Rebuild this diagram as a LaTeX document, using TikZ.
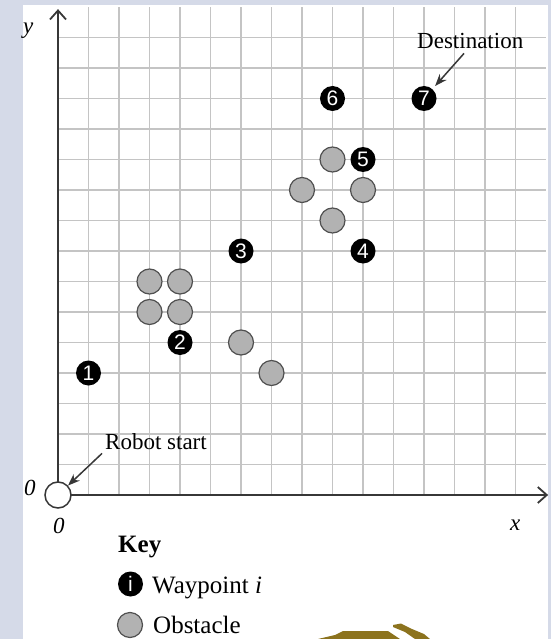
\documentclass[tikz,border=0pt]{standalone}
\usepackage{fontspec}
\setmainfont{Liberation Serif}
\newfontfamily\wpsans{Liberation Sans}
\usetikzlibrary{arrows.meta}
\definecolor{bgblue}{RGB}{213,218,232}
\definecolor{gridgray}{RGB}{196,196,196}
\definecolor{axisgray}{RGB}{55,55,55}
\definecolor{obsgray}{RGB}{178,178,178}
\definecolor{obsedge}{RGB}{80,80,80}
\definecolor{logobrown}{RGB}{140,115,30}
\tikzset{
  wp/.style={circle, fill=black, text=white, minimum size=25pt, inner sep=0pt, font=\wpsans\fontsize{21}{21}\selectfont},
  obs/.style={circle, fill=obsgray, draw=obsedge, line width=1.2pt, minimum size=25pt, inner sep=0pt},
  startnode/.style={circle, fill=white, draw=axisgray, line width=1.5pt, minimum size=26pt, inner sep=0pt},
  lbl/.style={font=\fontsize{23}{27}\selectfont, inner sep=0pt, anchor=base west},
  axlbl/.style={font=\fontsize{23}{27}\selectfont\itshape, inner sep=0pt, anchor=base west},
  keylbl/.style={font=\fontsize{25}{29}\selectfont, inner sep=0pt, anchor=base west},
  ptr/.style={draw=axisgray, line width=1.5pt, -{Stealth[length=12pt,width=9pt]}},
  axisline/.style={draw=axisgray, line width=1.8pt, -{Straight Barb[length=9pt,width=16pt]}},
  gridline/.style={draw=gridgray, line width=1.6pt},
}
\begin{document}
\begin{tikzpicture}[x=1pt,y=-1pt]
\useasboundingbox (0,0) rectangle (551,639);
\fill[bgblue] (0,0) rectangle (551,639);
\fill[white] (23,5) rectangle (548,639);
\begin{scope}[shift={(58,495)}, x=30.5pt, y=30.5pt]
  \foreach \i in {1,...,15} {
    \draw[gridline] (\i,0) -- (\i,16);
    \draw[gridline] (0,\i) -- (16,\i);
  }
  \coordinate (O) at (0,0);
  \coordinate (xend) at (16.07,0);
  \coordinate (yend) at (0,15.93);
  \draw[axisline] (O) -- (xend);
  \draw[axisline] (O) -- (yend);
  \node[startnode] (start) at (0,0) {};
  % obstacles
  \node[obs] (o1) at (3,7) {};
  \node[obs] (o2) at (4,7) {};
  \node[obs] (o3) at (3,6) {};
  \node[obs] (o4) at (4,6) {};
  \node[obs] (o5) at (6,5) {};
  \node[obs] (o6) at (7,4) {};
  \node[obs] (o7) at (9,11) {};
  \node[obs] (o8) at (8,10) {};
  \node[obs] (o9) at (10,10) {};
  \node[obs] (o10) at (9,9) {};
  % waypoints
  \node[wp] (w1) at (1,4) {1};
  \node[wp] (w2) at (4,5) {2};
  \node[wp] (w3) at (6,8) {3};
  \node[wp] (w4) at (10,8) {4};
  \node[wp] (w5) at (10,11) {5};
  \node[wp] (w6) at (9,13) {6};
  \node[wp] (w7) at (12,13) {7};
\end{scope}
% axis labels
\node[axlbl] (ylab) at (23,34) {y};
\node[axlbl] (zeroy) at (24,495) {0};
\node[axlbl] (zerox) at (53,533) {0};
\node[axlbl] (xlab) at (510,530) {x};
% annotations
\node[lbl] (dest) at (417,49) {Destination};
\node[lbl] (rstxt) at (105,449) {Robot start};
\draw[ptr, shorten >=4pt] ([xshift=47pt,yshift=-4pt]dest.south west) -- (w7);
\draw[ptr] ([xshift=-3pt,yshift=-4pt]rstxt.south west) -- (start);
% key
\node[keylbl, font=\fontsize{25}{29}\selectfont\bfseries] (key) at (118,552) {Key};
\node[wp] (keywp) at (130.5,584) {i};
\node[keylbl] (keywptxt) at (152,593) {Waypoint \textit{i}};
\node[obs] (keyobs) at (130,625) {};
\node[keylbl] (keyobstxt) at (153,633) {Obstacle};
% logo fragment
\fill[logobrown] (318,639) -- (335,635) -- (343,631) -- (388,631) -- (400,639) -- cycle;
\fill[logobrown] (393,625) -- (401,623.5) -- (412,629) -- (424,634) -- (430,639) -- (415,639) -- (405,632) -- (393,627) -- cycle;
\end{tikzpicture}
\end{document}
